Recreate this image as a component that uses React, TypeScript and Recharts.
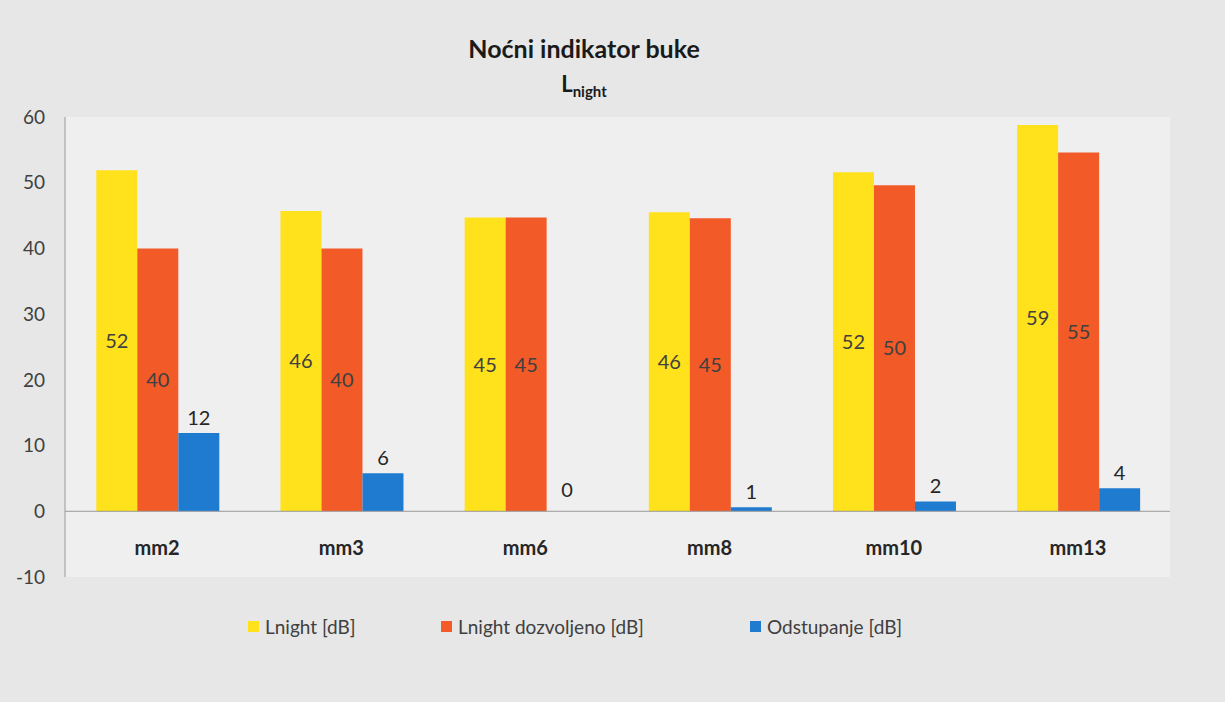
import React from "react";
import {
  BarChart,
  Bar,
  XAxis,
  YAxis,
  CartesianGrid,
  ReferenceLine,
  Legend,
  LabelList,
} from "recharts";

const categories = ["mm2", "mm3", "mm6", "mm8", "mm10", "mm13"];
const lnight = [51.9, 45.7, 44.7, 45.5, 51.6, 58.8];
const lnightAllowed = [40, 40, 44.7, 44.6, 49.6, 54.6];
const deviation = [11.9, 5.8, 0, 0.6, 1.5, 3.5];
const yTicks = [-10, 0, 10, 20, 30, 40, 50, 60];

const FONT = "Lato, 'Open Sans', sans-serif";
const YELLOW = "#ffe11c";
const ORANGE = "#f25a28";
const BLUE = "#1f7bd0";

const data = categories.map((c, i) => ({
  name: c,
  lnight: lnight[i],
  allowed: lnightAllowed[i],
  dev: deviation[i],
}));

const legendItems = [
  { label: "Lnight [dB]", color: YELLOW, slot: 193 },
  { label: "Lnight dozvoljeno [dB]", color: ORANGE, slot: 309 },
  { label: "Odstupanje [dB]", color: BLUE, slot: 200 },
];

function CategoryTick(props: any) {
  const { x, y, payload } = props;
  return (
    <text
      x={x}
      y={y - 22}
      textAnchor="middle"
      fontFamily={FONT}
      fontWeight={700}
      fontSize={20}
      fill="#262626"
    >
      {payload.value}
    </text>
  );
}

function LegendContent() {
  return (
    <div
      style={{
        display: "flex",
        paddingLeft: 248,
        fontFamily: FONT,
        fontSize: 19,
        color: "#404040",
      }}
    >
      {legendItems.map((it) => (
        <div key={it.label} style={{ display: "flex", alignItems: "center", width: it.slot }}>
          <span
            style={{
              display: "inline-block",
              width: 11,
              height: 11,
              background: it.color,
              marginRight: 6,
            }}
          />
          {it.label}
        </div>
      ))}
    </div>
  );
}

const round = (v: any) => String(Math.round(Number(v)));

const labelStyle = { fontFamily: FONT, fontSize: 20, fill: "#404040" };

// zero-height bars get no label from recharts, so draw it next to the orange bar
function ZeroDevLabel(props: any) {
  const { x, y, width, height, index } = props;
  if (deviation[index] !== 0) return null;
  return (
    <text
      x={x + width * 1.5}
      y={y + height - 14}
      textAnchor="middle"
      fontFamily={FONT}
      fontSize={20}
      fill="#262626"
    >
      {round(deviation[index])}
    </text>
  );
}

export default function App() {
  return (
    <div
      style={{
        position: "absolute",
        left: 0,
        top: 0,
        width: 1225,
        height: 702,
        background: "#e7e7e7",
        fontFamily: FONT,
      }}
    >
      <div
        style={{
          position: "absolute",
          left: 0,
          width: 1168,
          top: 33,
          textAlign: "center",
          fontSize: 25,
          fontWeight: 700,
          color: "#1a1a1a",
        }}
      >
        Noćni indikator buke
      </div>
      <div
        style={{
          position: "absolute",
          left: 0,
          width: 1168,
          top: 70,
          textAlign: "center",
          fontSize: 22,
          fontWeight: 700,
          color: "#1a1a1a",
        }}
      >
        L<sub style={{ fontSize: 15 }}>night</sub>
      </div>
      <BarChart
        width={1225}
        height={702}
        data={data}
        margin={{ top: 117, right: 55, bottom: 72, left: 0 }}
        barCategoryGap="17%"
        barGap={0}
      >
        <CartesianGrid fill="#efefef" stroke="none" />
        <XAxis
          dataKey="name"
          axisLine={false}
          tickLine={false}
          tickSize={0}
          tickMargin={0}
          height={30}
          tick={<CategoryTick />}
        />
        <YAxis
          domain={[-10, 60]}
          ticks={yTicks}
          width={65}
          tickLine={false}
          tickSize={0}
          tickMargin={20}
          axisLine={{ stroke: "#9a9a9a" }}
          tick={{ fontFamily: FONT, fontSize: 19, fill: "#404040" }}
        />
        <ReferenceLine y={0} stroke="#9a9a9a" />
        <Legend
          verticalAlign="bottom"
          content={<LegendContent />}
          wrapperStyle={{ left: 0, width: 1225, top: 615 }}
        />
        <Bar dataKey="lnight" name="Lnight [dB]" fill={YELLOW} isAnimationActive={false}>
          <LabelList dataKey="lnight" position="center" formatter={round} style={labelStyle} />
        </Bar>
        <Bar dataKey="allowed" name="Lnight dozvoljeno [dB]" fill={ORANGE} isAnimationActive={false}>
          <LabelList dataKey="allowed" position="center" formatter={round} style={labelStyle} />
          <LabelList dataKey="allowed" content={<ZeroDevLabel />} />
        </Bar>
        <Bar dataKey="dev" name="Odstupanje [dB]" fill={BLUE} isAnimationActive={false}>
          <LabelList
            dataKey="dev"
            position="top"
            offset={8}
            formatter={round}
            style={{ ...labelStyle, fill: "#262626" }}
          />
        </Bar>
      </BarChart>
    </div>
  );
}
